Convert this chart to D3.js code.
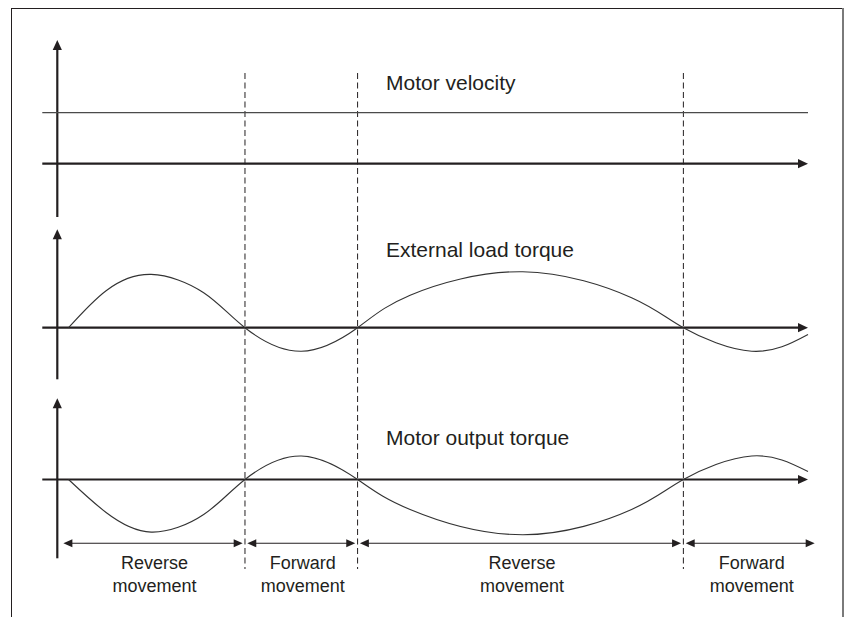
<!DOCTYPE html>
<html>
<head>
<meta charset="utf-8">
<script src="https://cdn.jsdelivr.net/npm/d3@7"></script>
<style>
  html, body { margin: 0; padding: 0; background: #fff; }
  svg { display: block; }
  text { font-family: "Liberation Sans", Arial, Helvetica, sans-serif; fill: #231f20; }
</style>
</head>
<body>
<svg id="chart" width="849" height="617"></svg>
<script>
// ---------------- data ----------------
const time = [1.5, 6.5, 12.5, 19.5, 25, 32.5, 40, 47, 62, 76.5, 83.4, 92.5, 100];
const loadTorque = [0, 37, 53.3, 35, 0, -23.5, 0, 32.5, 56, 30, 0, -23.5, -6.7];
const motorTorque = [0, -33, -52.6, -35, 0, 23.5, 0, -30, -55.3, -30, 0, 23.5, 8];
const velocityTime = [-2, 100];
const velocity = [51, 51];
const panelTitles = ["Motor velocity", "External load torque", "Motor output torque"];
const phaseBoundaries = [25, 40, 83.4];
const phaseStart = [0.5, 25, 40, 83.4];
const phaseEnd = [25, 40, 83.4, 101.2];
const phaseLabels = [["Reverse", "movement"], ["Forward", "movement"], ["Reverse", "movement"], ["Forward", "movement"]];

// ---------------- layout ----------------
const W = 849, H = 617;
const svg = d3.select("#chart");
const ink = "#231f20";

const x = d3.scaleLinear().domain([0, 100]).range([57.3, 808]);

const panels = [
  { axisY: 163.7, top: 40, bottom: 217, titleY: 90 },
  { axisY: 327.7, top: 229.3, bottom: 379.3, titleY: 257 },
  { axisY: 479.5, top: 398.3, bottom: 558.3, titleY: 445 }
];
panels.forEach(p => {
  p.y = d3.scaleLinear().domain([-100, 100]).range([p.axisY + 100, p.axisY - 100]);
});

// frame
svg.append("rect").attr("x", 11.5).attr("y", 8.5).attr("width", 831).attr("height", 640)
  .attr("fill", "none").attr("stroke", ink).attr("stroke-width", 1);
svg.append("line").attr("x1", 843).attr("x2", 843).attr("y1", 8).attr("y2", H)
  .attr("stroke", "#7a7a7a").attr("stroke-width", 2);

// dashed phase boundaries
svg.append("g").selectAll("line").data(phaseBoundaries).join("line")
  .attr("x1", d => x(d)).attr("x2", d => x(d))
  .attr("y1", 73).attr("y2", 569)
  .attr("stroke", ink).attr("stroke-width", 1).attr("stroke-dasharray", "6,3.5");

function arrowHead(g, tipX, tipY, dir, len, half) {
  let pts;
  if (dir === "right") pts = [[tipX, tipY], [tipX - len, tipY - half], [tipX - len, tipY + half]];
  else if (dir === "left") pts = [[tipX, tipY], [tipX + len, tipY - half], [tipX + len, tipY + half]];
  else pts = [[tipX, tipY], [tipX - half, tipY + len], [tipX + half, tipY + len]];
  g.append("path").attr("d", "M" + pts.map(p => p.join(",")).join("L") + "Z").attr("fill", ink);
}

const series = [
  { t: velocityTime, v: velocity },
  { t: time, v: loadTorque },
  { t: time, v: motorTorque }
];

panels.forEach((p, i) => {
  const g = svg.append("g");
  g.append("line").attr("x1", x(0)).attr("x2", x(0))
    .attr("y1", p.top + 8).attr("y2", p.bottom)
    .attr("stroke", ink).attr("stroke-width", 2.2);
  arrowHead(g, x(0), p.top, "up", 10, 4.6);
  g.append("line").attr("x1", x(-2)).attr("x2", x(100) - 8)
    .attr("y1", p.y(0)).attr("y2", p.y(0))
    .attr("stroke", ink).attr("stroke-width", 2.2);
  arrowHead(g, x(100), p.y(0), "right", 10, 4.6);

  const s = series[i];
  const pts = s.t.map((t, k) => [t, s.v[k]]);
  const line = d3.line()
    .x(d => x(d[0])).y(d => p.y(d[1]))
    .curve(i === 0 ? d3.curveLinear : d3.curveNatural);
  g.append("path").datum(pts).attr("d", line)
    .attr("fill", "none").attr("stroke", i === 0 ? "#4a4a4a" : "#333")
    .attr("stroke-width", i === 0 ? 1.3 : 1.1);

  g.append("text").attr("x", 386).attr("y", p.titleY)
    .attr("font-size", 21).text(panelTitles[i]);
});

// movement arrows
const arrowY = 543.3;
const ga = svg.append("g");
phaseStart.forEach((s, i) => {
  const x1 = x(s) + 2.3, x2 = x(phaseEnd[i]) - 2.3;
  ga.append("line").attr("x1", x1 + 6).attr("x2", x2 - 6)
    .attr("y1", arrowY).attr("y2", arrowY).attr("stroke", ink).attr("stroke-width", 1.1);
  arrowHead(ga, x1, arrowY, "left", 9, 4);
  arrowHead(ga, x2, arrowY, "right", 9, 4);
  const cx = (x1 + x2) / 2 + 1.5;
  ga.append("text").attr("x", cx).attr("y", 569.3).attr("text-anchor", "middle")
    .attr("font-size", 18).text(phaseLabels[i][0]);
  ga.append("text").attr("x", cx).attr("y", 591.7).attr("text-anchor", "middle")
    .attr("font-size", 18).text(phaseLabels[i][1]);
});
</script>
</body>
</html>
